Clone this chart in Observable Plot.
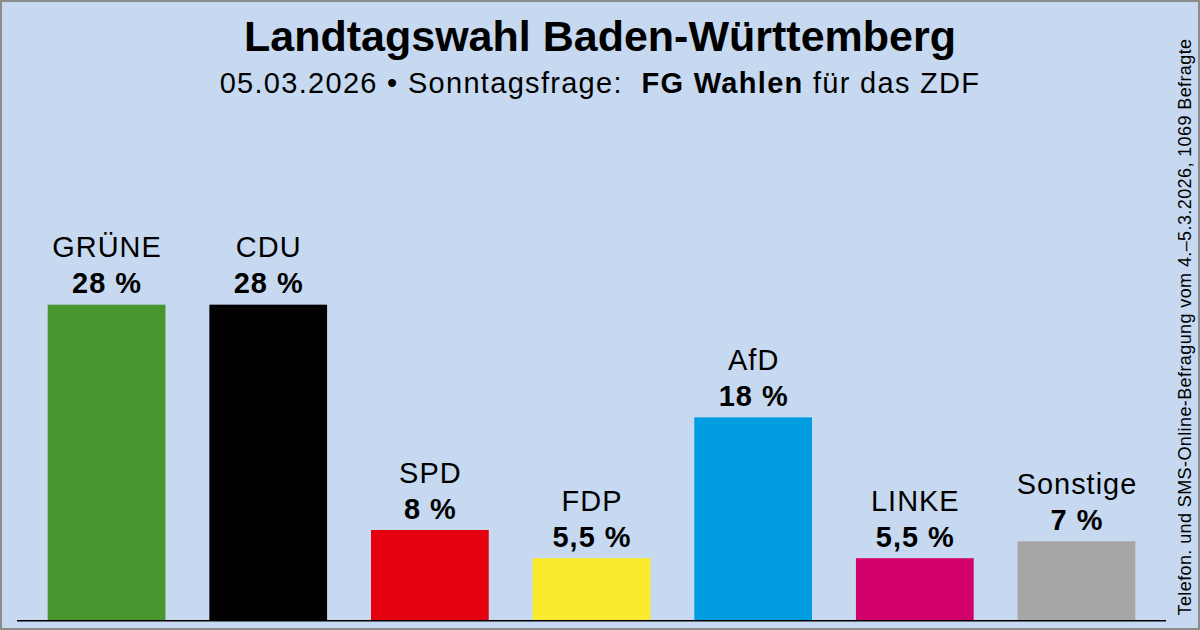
<!DOCTYPE html>
<html>
<head>
<meta charset="utf-8">
<script src="https://cdn.jsdelivr.net/npm/d3@7"></script>
<script src="https://cdn.jsdelivr.net/npm/@observablehq/plot@0.6"></script>
<style>
  html, body { margin: 0; padding: 0; background: #c6d9f0; }
  #frame {
    position: relative; width: 1200px; height: 630px; box-sizing: border-box;
    border: 2px solid #8c8c8c; background: #c6d9f0; overflow: hidden;
    font-family: "Liberation Sans", Arial, sans-serif; color: #000;
  }
  #title {
    position: absolute; left: 0; width: 1196px; top: 13px; text-align: center;
    font-size: 43px; line-height: 43px; font-weight: bold; white-space: nowrap;
  }
  #subtitle {
    position: absolute; left: 0; width: 1196px; top: 67px; text-align: center;
    font-size: 29px; line-height: 29px; letter-spacing: 1.3px; white-space: pre;
  }
  #source {
    position: absolute; left: 863px; top: 316px; width: 640px; height: 18px;
    line-height: 18px; font-size: 18px; letter-spacing: 0.4px; text-align: center; white-space: nowrap;
    transform: rotate(-90deg); transform-origin: 50% 50%;
  }
  #chart { position: absolute; left: -2px; top: 108px; }
</style>
</head>
<body>
<div id="frame">
  <div id="title">Landtagswahl Baden-Württemberg</div>
  <div id="subtitle">05.03.2026 • Sonntagsfrage:  <b>FG Wahlen</b> für das ZDF</div>
  <div id="source">Telefon. und SMS-Online-Befragung vom 4.–5.3.2026, 1069 Befragte</div>
  <div id="chart"></div>
</div>
<script>
const parties = ["GRÜNE", "CDU", "SPD", "FDP", "AfD", "LINKE", "Sonstige"];
const values  = [28, 28, 8, 5.5, 18, 5.5, 7];
const colors  = ["#47962e", "#000000", "#e3000f", "#fbeb2f", "#009ee0", "#d2006b", "#a6a6a6"];

const data = parties.map((p, i) => ({party: p, value: values[i], color: colors[i]}));
const fmt = v => String(v).replace(".", ",") + " %";

const H = 522;
const chart = Plot.plot({
  width: 1200,
  height: H,
  marginLeft: 17,
  marginRight: 32,
  marginTop: 0,
  marginBottom: 0,
  style: {background: "transparent", fontFamily: "'Liberation Sans', Arial, sans-serif", overflow: "visible", letterSpacing: "1px"},
  x: {domain: parties, paddingInner: 0.2716, paddingOuter: 0.19, round: false, axis: null},
  y: {domain: [0, 28], range: [511, 195], axis: null},
  marks: [
    Plot.barY(data, {x: "party", y: "value", fill: "color"}),
    Plot.ruleY([0], {stroke: "#000", strokeWidth: 1.5}),
    Plot.text(data, {x: "party", y: "value", text: d => fmt(d.value), dy: -12,
      lineAnchor: "bottom", fontSize: 29, fontWeight: "bold", fill: "#000"}),
    Plot.text(data, {x: "party", y: "value", text: "party", dy: -48,
      lineAnchor: "bottom", fontSize: 29, fill: "#000"})
  ]
});
document.getElementById("chart").appendChild(chart);
</script>
</body>
</html>
